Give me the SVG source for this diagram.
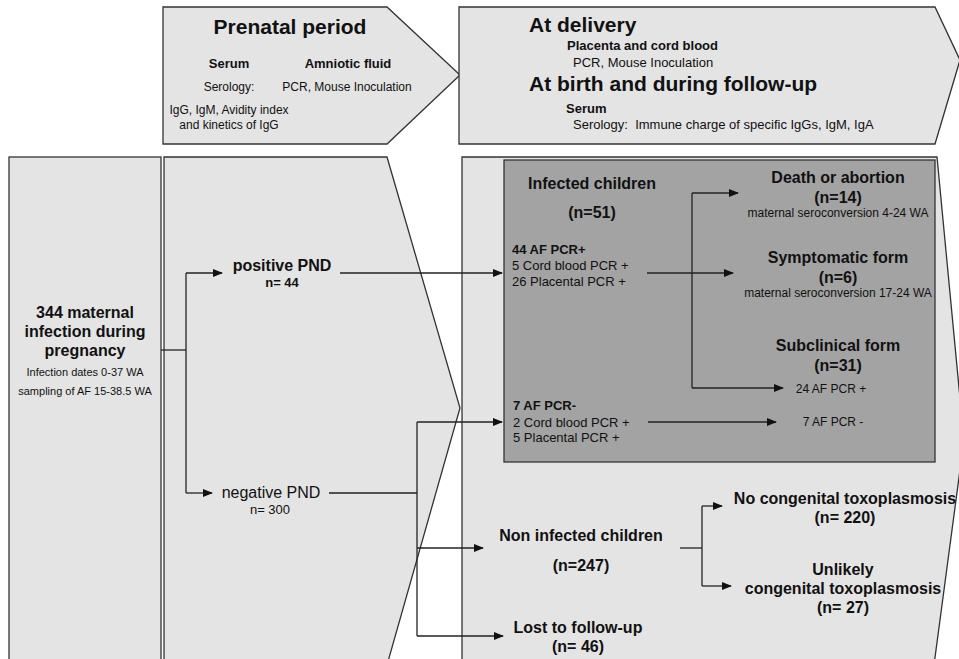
<svg xmlns="http://www.w3.org/2000/svg" width="959" height="659" viewBox="0 0 959 659">
<defs>
<marker id="ah" markerWidth="10" markerHeight="8" refX="9" refY="4" orient="auto" markerUnits="userSpaceOnUse">
<path d="M0,0 L10,4 L0,8 Z" fill="#111"/>
</marker>
<style>
.box{fill:#e4e4e4;stroke:#333;stroke-width:1.3}
.dark{fill:#a3a3a3;stroke:#333;stroke-width:1.3}
.c{fill:none;stroke:#222;stroke-width:1.3}
.a{marker-end:url(#ah)}
text{font-family:"Liberation Sans",Arial,sans-serif;fill:#111}
.b{font-weight:bold}
.m{text-anchor:middle}
.h1{font-size:21px;font-weight:bold}
.h2{font-size:16px;font-weight:bold}
.s13{font-size:13px}
.s12{font-size:12px}
.s11{font-size:11px}
</style>
</defs>
<rect width="959" height="659" fill="#fff"/>

<g id="prenatal">
<polygon class="box" points="163,7 387,7 460,75 387,144 163,144"/>
<text class="h1 m" x="290" y="34">Prenatal period</text>
<text class="s13 b m" x="229" y="68">Serum</text>
<text class="s13 b m" x="348" y="68">Amniotic fluid</text>
<text class="s12 m" x="229" y="91">Serology:</text>
<text class="s12 m" x="347" y="91">PCR, Mouse Inoculation</text>
<text class="s12 m" x="229" y="114">IgG, IgM, Avidity index</text>
<text class="s12 m" x="229" y="129">and kinetics of IgG</text>
</g>

<g id="delivery">
<polygon class="box" points="459,7 935,7 960,60 935,144 459,144"/>
<text class="h1" x="529" y="32">At delivery</text>
<text class="s13 b" x="567" y="50">Placenta and cord blood</text>
<text class="s13" x="573" y="67">PCR, Mouse Inoculation</text>
<text class="h1" x="529" y="91">At birth and during follow-up</text>
<text class="s13 b" x="566" y="113">Serum</text>
<text class="s13" x="573" y="129" xml:space="preserve">Serology:  Immune charge of specific IgGs, IgM, IgA</text>
</g>

<g id="maternal">
<rect class="box" x="9" y="157" width="152" height="510"/>
<text class="h2 m" x="85" y="318">344 maternal</text>
<text class="h2 m" x="85" y="337">infection during</text>
<text class="h2 m" x="85" y="356">pregnancy</text>
<text class="s11 m" x="85" y="376">Infection dates 0-37 WA</text>
<text class="s11 m" x="85" y="395">sampling of AF 15-38.5 WA</text>
</g>

<g id="pnd">
<polygon class="box" points="164,157 387,157 460,408 387,665 164,665"/>
<text class="h2 m" x="282" y="271">positive PND</text>
<text class="s13 b m" x="282" y="287">n= 44</text>
<text class="m" x="271" y="498" font-size="16">negative PND</text>
<text class="s13 m" x="270" y="514">n= 300</text>
</g>

<g id="outcome">
<polygon class="box" points="462,157 937,157 964,440 934,665 462,665"/>
</g>

<g id="infected">
<rect class="dark" x="504" y="160" width="431" height="302"/>
<text class="h2 m" x="592" y="189">Infected children</text>
<text class="h2 m" x="592" y="218">(n=51)</text>
<text class="s13 b" x="512" y="254">44 AF PCR+</text>
<text class="s13" x="512" y="270">5 Cord blood PCR +</text>
<text class="s13" x="512" y="286">26 Placental PCR +</text>
<text class="s13 b" x="513" y="410">7 AF PCR-</text>
<text class="s13" x="513" y="427">2 Cord blood PCR +</text>
<text class="s13" x="513" y="442">5 Placental PCR +</text>
<text class="h2 m" x="838" y="183">Death or abortion</text>
<text class="h2 m" x="838" y="203">(n=14)</text>
<text class="s12 m" x="838" y="217">maternal seroconversion 4-24 WA</text>
<text class="h2 m" x="838" y="263">Symptomatic form</text>
<text class="h2 m" x="838" y="283">(n=6)</text>
<text class="s12 m" x="838" y="297">maternal seroconversion 17-24 WA</text>
<text class="h2 m" x="838" y="351">Subclinical form</text>
<text class="h2 m" x="838" y="371">(n=31)</text>
<text class="s12 m" x="831" y="393">24 AF PCR +</text>
<text class="s12 m" x="833" y="426">7 AF PCR -</text>
</g>

<g id="noninfected">
<text class="h2 m" x="581" y="541">Non infected children</text>
<text class="h2 m" x="581" y="571">(n=247)</text>
<text class="h2 m" x="845" y="504">No congenital toxoplasmosis</text>
<text class="h2 m" x="845" y="523">(n= 220)</text>
<text class="h2 m" x="843" y="575">Unlikely</text>
<text class="h2 m" x="843" y="594">congenital toxoplasmosis</text>
<text class="h2 m" x="843" y="613">(n= 27)</text>
</g>

<g id="lost">
<text class="h2 m" x="578" y="633">Lost to follow-up</text>
<text class="h2 m" x="578" y="652">(n= 46)</text>
</g>

<g id="connectors">
<polyline class="c" points="161,350 186,350"/>
<polyline class="c" points="186,273 186,493"/>
<line class="c a" x1="186" y1="273" x2="222" y2="273"/>
<line class="c a" x1="186" y1="493" x2="212" y2="493"/>
<line class="c a" x1="340" y1="273" x2="502" y2="273"/>
<polyline class="c" points="329,493 417,493"/>
<polyline class="c" points="417,422 417,636"/>
<line class="c a" x1="417" y1="422" x2="502" y2="422"/>
<line class="c a" x1="417" y1="548" x2="483" y2="548"/>
<line class="c a" x1="417" y1="636" x2="503" y2="636"/>
<line class="c a" x1="647" y1="273" x2="733" y2="273"/>
<polyline class="c" points="692,193 692,388"/>
<line class="c a" x1="692" y1="193" x2="738" y2="193"/>
<line class="c a" x1="692" y1="388" x2="783" y2="388"/>
<line class="c a" x1="648" y1="422" x2="776" y2="422"/>
<polyline class="c" points="680,548 702,548"/>
<polyline class="c" points="702,506 702,586"/>
<line class="c a" x1="702" y1="506" x2="722" y2="506"/>
<line class="c a" x1="702" y1="586" x2="731" y2="586"/>
</g>
</svg>
